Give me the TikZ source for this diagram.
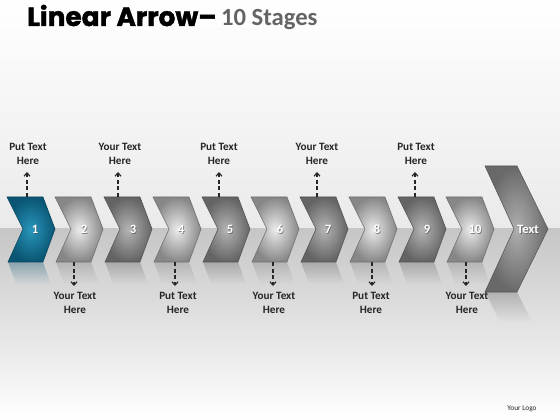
\documentclass[tikz,border=0pt]{standalone}
\usepackage{fontspec}
\setmainfont{Carlito}
\newfontfamily\titlefont{Poppins}[BoldFeatures={FakeBold=1.6}]
\usetikzlibrary{arrows.meta,fadings}
\definecolor{bluein}{RGB}{40,150,188}
\definecolor{blueout}{RGB}{10,85,115}
\definecolor{lgin}{RGB}{235,235,235}
\definecolor{lgout}{RGB}{135,135,135}
\definecolor{dgin}{RGB}{180,180,180}
\definecolor{dgout}{RGB}{100,100,100}
\definecolor{bgin}{RGB}{175,175,175}
\definecolor{bgout}{RGB}{105,105,105}
\definecolor{labtext}{RGB}{38,38,38}
\definecolor{subgray}{RGB}{100,100,100}
\newcommand\mychev[3]{%
  \fill[#3,opacity=0.35,path fading=south] ({#1+1},262) -- ({#1+36},262) -- ({#1+44},284) -- ({#1+9},284) -- cycle;
  \shade[#2] (#1,197) -- ({#1+36},197) -- ({#1+48},229) -- ({#1+36},262) -- ({#1+1},262) -- ({#1+16},229) -- cycle;}
\begin{document}
\begin{tikzpicture}[x=0.75pt,y=-0.75pt,
  bluech/.style={inner color=bluein,outer color=blueout,draw=blueout!80!black,line width=0.4pt},
  lightch/.style={inner color=lgin,outer color=lgout,draw=lgout!80!black,line width=0.4pt},
  darkch/.style={inner color=dgin,outer color=dgout,draw=dgout!80!black,line width=0.4pt},
  numlab/.style={text=white,font=\bfseries\fontsize{9.5}{10}\selectfont,inner sep=0pt},
  numshadow/.style={text=black!70,opacity=0.6,font=\bfseries\fontsize{9.5}{10}\selectfont,inner sep=0pt},
  toplab/.style={align=center,text=labtext,font=\bfseries\fontsize{8.4}{10.5}\selectfont,inner sep=0pt},
  callout/.style={densely dashed,line width=0.9pt,draw=labtext,-{Straight Barb[length=2.5pt,width=4.5pt]}}]
\useasboundingbox (0,0) rectangle (560,420);
% background
\shade[top color=white,bottom color={rgb,255:red,234;green,234;blue,234}] (0,0) rectangle (560,229);
\shade[top color={rgb,255:red,198;green,198;blue,198},bottom color=white] (0,229) rectangle (560,420);
% title
\node[anchor=base west,inner sep=0pt,font=\titlefont\bfseries\fontsize{19.8}{22}\selectfont] (title) at (27,26) {Linear Arrow\textendash};
\node[anchor=base west,inner sep=0pt,text=subgray,font=\bfseries\fontsize{18.5}{20}\selectfont] (sub) at ([xshift=3pt]title.base east) {10 Stages};
% chevrons
\mychev{7}{bluech}{blueout}
\mychev{55}{lightch}{lgout}
\mychev{104}{darkch}{dgout}
\mychev{153}{lightch}{lgout}
\mychev{202}{darkch}{dgout}
\mychev{251}{lightch}{lgout}
\mychev{300}{darkch}{dgout}
\mychev{349}{lightch}{lgout}
\mychev{398}{darkch}{dgout}
\mychev{446}{lightch}{lgout}
\fill[bgout,opacity=0.35,path fading=south] (485,292) -- (517,292) -- (532,322) -- (500,322) -- cycle;
\shade[inner color=bgin,outer color=bgout,draw=bgout!80!black,line width=0.4pt] (485,166) -- (517,166) -- (548,229) -- (517,292) -- (485,292) -- (514,229) -- cycle;
% numbers
\foreach \nm/\x/\t in {1/35/1,2/84/2,3/133/3,4/181/4,5/230/5,6/280/6,7/328/7,8/377/8,9/427/9,10/475/10,t/528/Text} {
  \node[numshadow] (m\nm) at ({\x+0.8},230) {\t};
  \node[numlab] (n\nm) at (\x,229) {\t};
}
% top labels
\node[toplab] (t1) at (28,154) {Put Text\\Here};
\node[toplab] (t3) at (120,154) {Your Text\\Here};
\node[toplab] (t5) at (219,154) {Put Text\\Here};
\node[toplab] (t7) at (317,154) {Your Text\\Here};
\node[toplab] (t9) at (416,154) {Put Text\\Here};
% bottom labels
\node[toplab] (b2) at (75,303) {Your Text\\Here};
\node[toplab] (b4) at (178,303) {Put Text\\Here};
\node[toplab] (b6) at (274,303) {Your Text\\Here};
\node[toplab] (b8) at (371,303) {Put Text\\Here};
\node[toplab] (b10) at (467,303) {Your Text\\Here};
% callout coordinates
\coordinate (s1) at (27,197); \coordinate (e1) at (27,172);
\coordinate (s3) at (118,197); \coordinate (e3) at (118,172);
\coordinate (s5) at (219,197); \coordinate (e5) at (219,172);
\coordinate (s7) at (317,197); \coordinate (e7) at (317,172);
\coordinate (s9) at (415,197); \coordinate (e9) at (415,172);
\coordinate (s2) at (74,262); \coordinate (e2) at (74,286);
\coordinate (s4) at (175,262); \coordinate (e4) at (175,286);
\coordinate (s6) at (273,262); \coordinate (e6) at (273,286);
\coordinate (s8) at (372,262); \coordinate (e8) at (372,286);
\coordinate (s10) at (466,262); \coordinate (e10) at (466,286);
\foreach \i in {1,...,10} {\draw[callout] (s\i) -- (e\i);}
% logo
\node[inner sep=0pt,text=labtext,font=\fontsize{5.5}{6}\selectfont] (logo) at (522,409) {Your Logo};
\end{tikzpicture}
\end{document}
